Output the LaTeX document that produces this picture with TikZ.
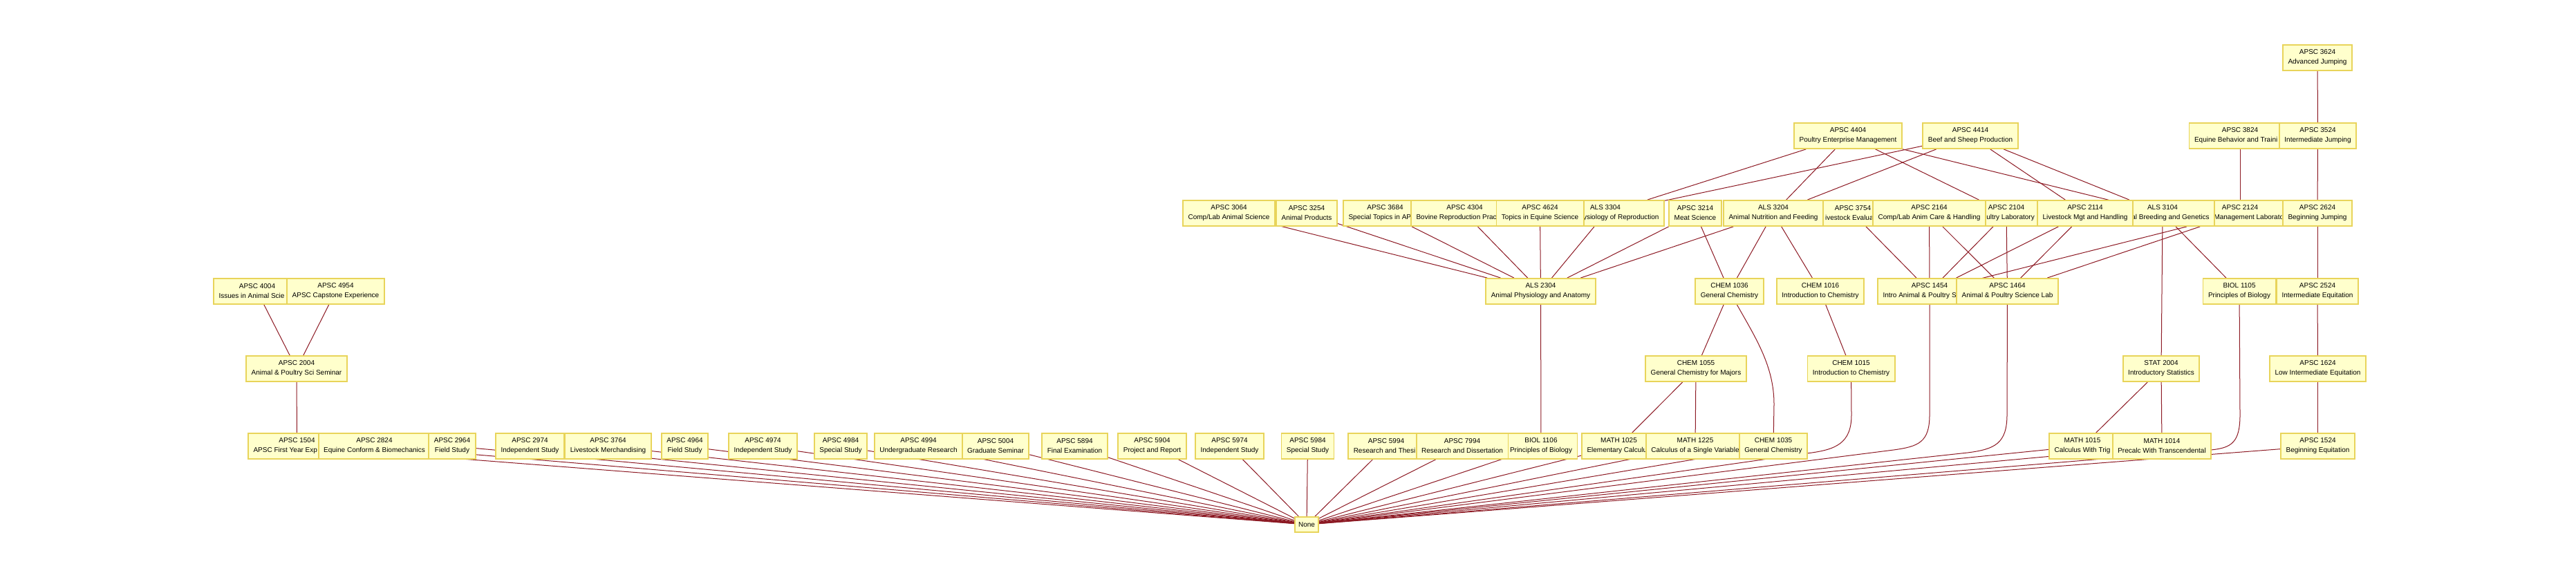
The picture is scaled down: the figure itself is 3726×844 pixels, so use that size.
\documentclass[tikz,border=0pt]{standalone}
\usepackage{fontspec}
\setmainfont{Liberation Sans}
\usetikzlibrary{backgrounds}

\definecolor{boxfill}{RGB}{255,255,204}
\definecolor{boxline}{RGB}{232,212,90}
\definecolor{wirered}{RGB}{140,25,35}

% visible part of a label that runs under the next box
\newcommand{\cutlabel}[3]{\makebox[#1pt][l]{\hspace*{#2pt}#3}}

\tikzset{
  course/.style={draw=boxline, fill=boxfill, line width=1.8pt, minimum height=37pt,
    inner xsep=7.5pt, inner ysep=0pt, align=center, font=\fontsize{10pt}{14pt}\selectfont},
  sink/.style={course, minimum height=22pt, inner xsep=5pt},
  prereq/.style={draw=wirered, line width=1pt}
}

\begin{document}
\begin{tikzpicture}[x=1pt, y=-1pt]
    \useasboundingbox (0,0) rectangle (3726,844);

    % row 0
    \node[course] (apsc3624) at (3352,83.5) {APSC 3624\\Advanced Jumping};

    % row 1
    \node[course] (apsc4404) at (2673,196.5) {APSC 4404\\Poultry Enterprise Management};
    \node[course] (apsc4414) at (2850,196.5) {APSC 4414\\Beef and Sheep Production};
    \node[course] (apsc3824) at (3240,196.5) {APSC 3824\\\cutlabel{132}{0}{Equine Behavior and Traini}};
    \node[course] (apsc3524) at (3352.5,196.5) {APSC 3524\\Intermediate Jumping};

    % row 2
    \node[course] (apsc3064) at (1777.5,308.5) {APSC 3064\\Comp/Lab Animal Science};
    \node[course] (apsc3254) at (1890,308.5) {APSC 3254\\Animal Products};
    \node[course] (apsc3684) at (2003.5,308.5) {APSC 3684\\\cutlabel{106}{0}{Special Topics in AP}};
    \node[course] (apsc4304) at (2118.5,308.5) {APSC 4304\\\cutlabel{140}{0}{Bovine Reproduction Prac}};
    \node[course] (als3304) at (2322,308.5) {ALS 3304\\\cutlabel{155}{45.5}{ysiology of Reproduction}};
    \node[course] (apsc4624) at (2227.5,308.5) {APSC 4624\\Topics in Equine Science};
    \node[course] (apsc3214) at (2452,308.5) {APSC 3214\\Meat Science};
    \node[course] (apsc3754) at (2680,308.5) {APSC 3754\\\cutlabel{91}{5.6}{ivestock Evalua}};
    \node[course] (als3204) at (2565,308.5) {ALS 3204\\Animal Nutrition and Feeding};
    \node[course] (apsc2104) at (2902,308.5) {APSC 2104\\\cutlabel{82}{6.7}{oultry Laboratory}};
    \node[course] (apsc2164) at (2790.5,308.5) {APSC 2164\\Comp/Lab Anim Care \& Handling};
    \node[course] (apsc2124) at (3240,308.5) {APSC 2124\\\cutlabel{143}{34}{Management Laborato}};
    \node[course] (als3104) at (3128,308.5) {ALS 3104\\\cutlabel{135}{22.8}{al Breeding and Genetics}};
    \node[course] (apsc2114) at (3016,308.5) {APSC 2114\\Livestock Mgt and Handling};
    \node[course] (apsc2624) at (3352,308.5) {APSC 2624\\Beginning Jumping};

    % row 3
    \node[course] (apsc4004) at (372,421.5) {APSC 4004\\\cutlabel{111}{0}{Issues in Animal Scie}};
    \node[course] (apsc4954) at (485.5,421.5) {APSC 4954\\APSC Capstone Experience};
    \node[course] (als2304) at (2228.5,421.5) {ALS 2304\\Animal Physiology and Anatomy};
    \node[course] (chem1036) at (2501.5,421.5) {CHEM 1036\\General Chemistry};
    \node[course] (chem1016) at (2633,421.5) {CHEM 1016\\Introduction to Chemistry};
    \node[course] (apsc1454) at (2791,421.5) {APSC 1454\\\cutlabel{135}{0}{Intro Animal \& Poultry S}};
    \node[course] (apsc1464) at (2903.5,421.5) {APSC 1464\\Animal \& Poultry Science Lab};
    \node[course] (biol1105) at (3239,421.5) {BIOL 1105\\Principles of Biology};
    \node[course] (apsc2524) at (3352,421.5) {APSC 2524\\Intermediate Equitation};

    % row 4
    \node[course] (apsc2004) at (429,533.5) {APSC 2004\\Animal \& Poultry Sci Seminar};
    \node[course] (chem1055) at (2453,533.5) {CHEM 1055\\General Chemistry for Majors};
    \node[course] (chem1015) at (2677.5,533.5) {CHEM 1015\\Introduction to Chemistry};
    \node[course] (stat2004) at (3126,533.5) {STAT 2004\\Introductory Statistics};
    \node[course] (apsc1624) at (3352.5,533.5) {APSC 1624\\Low Intermediate Equitation};

    % row 5
    \node[course] (apsc1504) at (429.5,645.5) {APSC 1504\\\cutlabel{126}{0}{APSC First Year Exp}};
    \node[course] (apsc2824) at (541.5,645.5) {APSC 2824\\Equine Conform \& Biomechanics};
    \node[course] (apsc2964) at (654,645.5) {APSC 2964\\Field Study};
    \node[course] (apsc2974) at (766.5,645.5) {APSC 2974\\Independent Study};
    \node[course] (apsc3764) at (879.5,645.5) {APSC 3764\\Livestock Merchandising};
    \node[course] (apsc4964) at (990.5,645.5) {APSC 4964\\Field Study};
    \node[course] (apsc4974) at (1103.5,645.5) {APSC 4974\\Independent Study};
    \node[course] (apsc4984) at (1216,645.5) {APSC 4984\\Special Study};
    \node[course] (apsc4994) at (1328.5,645.5) {APSC 4994\\Undergraduate Research};
    \node[course] (apsc5004) at (1440,645.5) {APSC 5004\\Graduate Seminar};
    \node[course] (apsc5894) at (1554.5,645.5) {APSC 5894\\Final Examination};
    \node[course] (apsc5904) at (1666.5,645.5) {APSC 5904\\Project and Report};
    \node[course] (apsc5974) at (1778.5,645.5) {APSC 5974\\Independent Study};
    \node[course] (apsc5984) at (1891.5,645.5) {APSC 5984\\Special Study};
    \node[course] (apsc5994) at (2005,645.5) {APSC 5994\\\cutlabel{94.5}{0}{Research and Thesi}};
    \node[course] (biol1106) at (2229,645.5) {BIOL 1106\\Principles of Biology};
    \node[course] (apsc7994) at (2115,645.5) {APSC 7994\\Research and Dissertation};
    \node[course] (math1025) at (2341.5,645.5) {MATH 1025\\\cutlabel{92}{0}{Elementary Calculu}};
    \node[course] (math1225) at (2452,645.5) {MATH 1225\\Calculus of a Single Variable};
    \node[course] (chem1035) at (2565,645.5) {CHEM 1035\\General Chemistry};
    \node[course] (math1015) at (3012,645.5) {MATH 1015\\Calculus With Trig};
    \node[course] (math1014) at (3127,645.5) {MATH 1014\\Precalc With Transcendental};
    \node[course] (apsc1524) at (3352.5,645.5) {APSC 1524\\Beginning Equitation};

    % row 6
    \node[sink] (nonebox) at (1890,759) {None};

    \begin{scope}[on background layer]
    % riding
    \draw[prereq] (apsc3624) -- (apsc3524);
    \draw[prereq] (apsc3524) -- (apsc2624);
    \draw[prereq] (apsc2624) -- (apsc2524);
    \draw[prereq] (apsc2524) -- (apsc1624);
    \draw[prereq] (apsc1624) -- (apsc1524);
    \draw[prereq] (apsc3824) -- (apsc2124);

    % seminar
    \draw[prereq] (apsc4004) -- (apsc2004);
    \draw[prereq] (apsc4954) -- (apsc2004);
    \draw[prereq] (apsc2004) -- (apsc1504);

    \draw[prereq] (apsc4404) -- (als3304);
    \draw[prereq] (apsc4404) -- (als3204);
    \draw[prereq] (apsc4404) -- (apsc2104);
    \draw[prereq] (apsc4404) -- (als3104);
    \draw[prereq] (apsc4414) -- (als3304);
    \draw[prereq] (apsc4414) -- (als3204);
    \draw[prereq] (apsc4414) -- (apsc2114);
    \draw[prereq] (apsc4414) -- (als3104);

    \draw[prereq] (apsc3064) -- (als2304);
    \draw[prereq] (apsc3254) -- (als2304);
    \draw[prereq] (apsc3684) -- (als2304);
    \draw[prereq] (apsc4304) -- (als2304);
    \draw[prereq] (apsc4624) -- (als2304);
    \draw[prereq] (als3304) -- (als2304);
    \draw[prereq] (apsc3214) -- (als2304);
    \draw[prereq] (als3204) -- (als2304);
    \draw[prereq] (apsc3214) -- (chem1036);
    \draw[prereq] (als3204) -- (chem1036);
    \draw[prereq] (als3204) -- (chem1016);

    \draw[prereq] (apsc3754) -- (apsc1454);
    \draw[prereq] (apsc2164) -- (apsc1454);
    \draw[prereq] (apsc2164) -- (apsc1464);
    \draw[prereq] (apsc2104) -- (apsc1454);
    \draw[prereq] (apsc2104) -- (apsc1464);
    \draw[prereq] (apsc2114) -- (apsc1454);
    \draw[prereq] (apsc2114) -- (apsc1464);
    \draw[prereq] (apsc2124) -- (apsc1454);
    \draw[prereq] (apsc2124) -- (apsc1464);
    \draw[prereq] (als3104) -- (stat2004);
    \draw[prereq] (als3104) -- (biol1105);

    \draw[prereq] (als2304) -- (biol1106);
    \draw[prereq] (chem1036) -- (chem1055);
    \draw[prereq] (chem1036) .. controls (2540,490) and (2566,530) .. (2566,585) -- (chem1035);
    \draw[prereq] (chem1016) -- (chem1015);
    \draw[prereq] (chem1055) -- (math1025);
    \draw[prereq] (chem1055) -- (math1225);
    \draw[prereq] (stat2004) -- (math1015);
    \draw[prereq] (stat2004) -- (math1014);

    % long ones down to None
    \draw[prereq] (chem1015) -- (2678,600) .. controls (2678,642) and (2655,651) .. (2613,656) -- (nonebox);
    \draw[prereq] (apsc1454) -- (2791,600) .. controls (2791,640) and (2775,646) .. (2739,651) -- (nonebox);
    \draw[prereq] (apsc1464) -- (2903,600) .. controls (2903,642) and (2885,650) .. (2846,655) -- (nonebox);
    \draw[prereq] (biol1105) -- (3240,600) .. controls (3240,640) and (3228,648) .. (3198,651) -- (nonebox);

    \draw[prereq] (apsc1504) -- (nonebox);
    \draw[prereq] (apsc2824) -- (nonebox);
    \draw[prereq] (apsc2964) -- (nonebox);
    \draw[prereq] (apsc2974) -- (nonebox);
    \draw[prereq] (apsc3764) -- (nonebox);
    \draw[prereq] (apsc4964) -- (nonebox);
    \draw[prereq] (apsc4974) -- (nonebox);
    \draw[prereq] (apsc4984) -- (nonebox);
    \draw[prereq] (apsc4994) -- (nonebox);
    \draw[prereq] (apsc5004) -- (nonebox);
    \draw[prereq] (apsc5894) -- (nonebox);
    \draw[prereq] (apsc5904) -- (nonebox);
    \draw[prereq] (apsc5974) -- (nonebox);
    \draw[prereq] (apsc5984) -- (nonebox);
    \draw[prereq] (apsc5994) -- (nonebox);
    \draw[prereq] (apsc7994) -- (nonebox);
    \draw[prereq] (biol1106) -- (nonebox);
    \draw[prereq] (math1025) -- (nonebox);
    \draw[prereq] (math1225) -- (nonebox);
    \draw[prereq] (chem1035) -- (nonebox);
    \draw[prereq] (math1015) -- (nonebox);
    \draw[prereq] (math1014) -- (nonebox);
    \draw[prereq] (apsc1524) -- (nonebox);
    \end{scope}
\end{tikzpicture}
\end{document}
